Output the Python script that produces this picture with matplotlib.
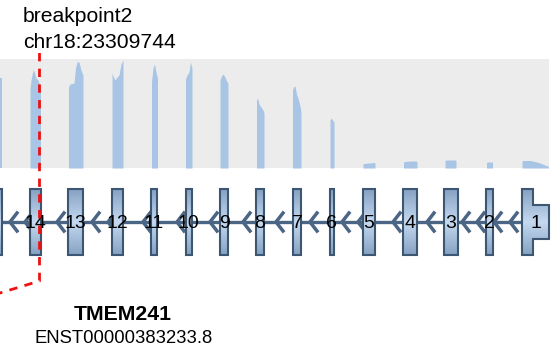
import matplotlib
matplotlib.use("Agg")
import matplotlib.pyplot as plt
import numpy as np
from matplotlib.colors import LinearSegmentedColormap
from matplotlib.patches import Polygon

plt.rcParams["font.family"] = ["Liberation Sans", "DejaVu Sans"]
plt.rcParams["lines.scale_dashes"] = False

# ------------------------------------------------------------
# DATA (x in squeezed transcript units, exon 15 is cut off left)
# ------------------------------------------------------------
gene_name = "TMEM241"
transcript_id = "ENST00000383233.8"
breakpoint_label = "breakpoint2"
breakpoint_coord = "chr18:23309744"
breakpoint_pos = 39.5

exon_labels = ["15", "14", "13", "12", "11", "10", "9", "8", "7", "6", "5", "4", "3", "2", "1"]
exon_start = [-20, 29.5, 68, 112, 151, 185.5, 220, 256, 293, 329.5, 363, 403, 444, 486, 522]
exon_end = [2, 40.5, 83, 123, 157, 192, 228, 264, 301, 334, 375, 417, 458, 493, 533]
utr_end = 549  # 3' UTR stub of exon 1

# strand arrows (tip positions) inside the introns
arrow_pos = [10, 25, 57, 92, 108, 143, 177, 210, 243, 276, 310, 342, 358, 393, 427, 462, 477, 494, 510]

# read coverage per exon: sample positions and depth
cov_x = [
    [-5, 2],
    [30, 31, 33, 34, 36, 38, 40.5],
    [68.5, 70, 74, 75.5, 77, 79, 81, 83],
    [112, 113, 115, 117, 119, 121, 123],
    [151.5, 153, 154.5, 156, 157.5],
    [185.5, 187, 189, 190.5, 192],
    [220, 221.5, 223, 225, 226.5, 228],
    [256.5, 257.5, 259, 261, 263, 264],
    [292.5, 293.5, 295, 296.5, 298, 300, 301],
    [330, 331, 332.5, 334],
    [363, 364, 369, 374, 375],
    [403.5, 405, 411, 416, 417],
    [445, 446, 451, 455, 456],
    [486.5, 487.5, 490, 492.5],
    [522, 523, 530, 535, 540, 545, 548.5],
]
cov_h = [
    [90, 90],
    [80, 88, 98, 97, 90, 88, 81],
    [81, 84, 85, 100, 106, 106, 98, 93],
    [95, 92, 88, 91, 93, 104, 108],
    [86, 100, 104, 96, 90],
    [89, 93, 96, 106, 100],
    [88, 92, 94, 91, 87, 85],
    [68, 70, 64, 61, 58, 55],
    [78, 81, 82, 74, 70, 62, 56],
    [48, 50, 48, 46],
    [4, 4.5, 5, 5.5, 5],
    [6, 6.5, 7, 7, 6.5],
    [7.5, 8, 8, 8, 7.5],
    [5.5, 6, 6, 6],
    [7, 7.5, 7.5, 6.5, 5, 3, 1.5],
]

# ------------------------------------------------------------
# STYLE / LAYOUT
# ------------------------------------------------------------
W, H = 554, 353
STRAND_COLOR = "#4b6584"
EXON_EDGE = "#3d5672"
COV_COLOR = "#a9c5e6"
PANEL_BG = "#ececec"
exon_top, exon_bot, strand_y = 189, 255, 222
utr_top, utr_bot = 205, 239

fig = plt.figure(figsize=(W / 100, H / 100), dpi=100)

# coverage panel
ax_cov = fig.add_axes([0, (H - 168) / H, 549 / W, 109 / H])
ax_cov.set_facecolor(PANEL_BG)
for xs, hs in zip(cov_x, cov_h):
    ax_cov.fill_between(xs, 0, hs, color=COV_COLOR, linewidth=0)
ax_cov.set_xlim(0, 549)
ax_cov.set_ylim(0, 109)
ax_cov.set_xticks([])
ax_cov.set_yticks([])
for sp in ax_cov.spines.values():
    sp.set_visible(False)

# overlay axes for gene model, labels and breakpoint
ax = fig.add_axes([0, 0, 1, 1])
ax.set_facecolor("none")

ax.plot([0, exon_start[-1]], [strand_y, strand_y], color=STRAND_COLOR, lw=2.4, zorder=1)
for x in arrow_pos:
    ax.plot([x + 7, x, x + 7], [strand_y - 9, strand_y, strand_y + 9],
            color=STRAND_COLOR, lw=2.5, zorder=1)

grad = np.abs(np.linspace(-1, 1, 64))[:, None]
cmap = LinearSegmentedColormap.from_list("exon", ["#c4d8ef", "#86a2c3"])
for i, (x0, x1, lab) in enumerate(zip(exon_start, exon_end, exon_labels)):
    if lab == "1":
        verts = [(x0, exon_top), (x1, exon_top), (x1, utr_top), (utr_end, utr_top),
                 (utr_end, utr_bot), (x1, utr_bot), (x1, exon_bot), (x0, exon_bot)]
        right = utr_end
    else:
        verts = [(x0, exon_top), (x1, exon_top), (x1, exon_bot), (x0, exon_bot)]
        right = x1
    patch = Polygon(verts, closed=True, facecolor="none", edgecolor=EXON_EDGE, lw=1.5, zorder=4)
    ax.add_patch(patch)
    im = ax.imshow(grad, extent=(x0, right, exon_bot, exon_top), cmap=cmap,
                   aspect="auto", interpolation="bilinear", zorder=3)
    im.set_clip_path(patch)
    xc = (x0 + right) / 2
    if xc > 0:
        ax.text(xc, 223, lab, fontsize=14, ha="center", va="center", zorder=5)

# breakpoint marker
ax.plot([breakpoint_pos, breakpoint_pos, -5], [53, 281, 294.5], color="#ee1111",
        lw=2, dashes=(6, 5.3), zorder=6)
ax.text(23, 22.5, breakpoint_label, fontsize=15.2, ha="left", va="baseline")
ax.text(23, 48, breakpoint_coord, fontsize=15.2, ha="left", va="baseline")

ax.text(123, 320, gene_name, fontsize=15.3, fontweight="bold", ha="center", va="baseline")
ax.text(123.5, 343, transcript_id, fontsize=13.3, ha="center", va="baseline")

ax.set_xlim(0, W)
ax.set_ylim(H, 0)
ax.axis("off")

fig.savefig("out.png", dpi=100)
